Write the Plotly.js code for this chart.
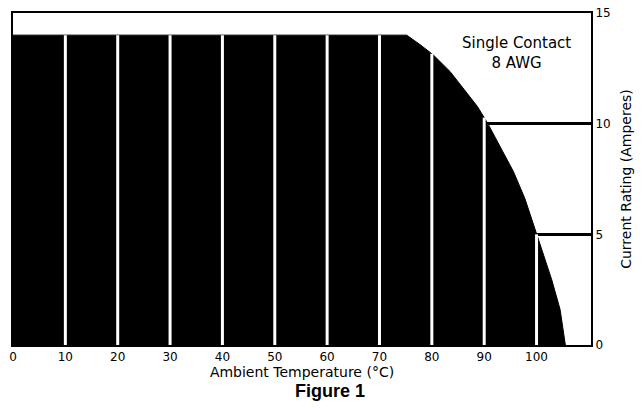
<!DOCTYPE html>
<html>
<head>
<meta charset="utf-8">
<script src="https://cdn.plot.ly/plotly-3.0.1.min.js"></script>
<style>
html,body{margin:0;padding:0;background:#fff;}
#chart{width:643px;height:408px;}
</style>
</head>
<body>
<div id="chart"></div>
<script>
// Derating curve: ambient temperature (°C) vs current rating (A)
var temps = [0, 75.2, 77.7, 80.3, 83.5, 86.6, 88.7, 90.7, 93.0, 95.6, 97.8, 100.0, 101.5, 102.9, 104.5, 105.5];
var amps  = [14, 14, 13.58, 13.1, 12.35, 11.44, 10.78, 10, 8.95, 7.83, 6.6, 5.0, 3.95, 2.95, 1.6, 0];
var xTicks = [0, 10, 20, 30, 40, 50, 60, 70, 80, 90, 100];
var yTicks = [0, 5, 10, 15];
var gridX = [10, 20, 30, 40, 50, 60, 70, 80, 90, 100];
var noteLines = ["Single Contact", "8 AWG"];
var xTitle = "Ambient Temperature (°C)";
var yTitle = "Current Rating (Amperes)";
var figLabel = "Figure 1";

function curveAt(x) {
  for (var i = 0; i < temps.length - 1; i++) {
    if (x >= temps[i] && x <= temps[i + 1]) {
      var t = (x - temps[i]) / (temps[i + 1] - temps[i]);
      return amps[i] + t * (amps[i + 1] - amps[i]);
    }
  }
  return 0;
}

var FONT = "DejaVu Sans, Verdana, sans-serif";

var trace = {
  x: temps, y: amps, type: 'scatter', mode: 'lines',
  fill: 'tozeroy', fillcolor: '#000', line: {color: '#000', width: 1},
  hoverinfo: 'skip', showlegend: false
};

var shapes = gridX.map(function (gx) {
  return {type: 'line', xref: 'x', yref: 'y', x0: gx, x1: gx, y0: 0, y1: curveAt(gx),
          line: {color: '#fff', width: 3}, layer: 'above'};
});

var layout = {
  width: 643, height: 408,
  margin: {l: 13, r: 52, t: 13, b: 63},
  paper_bgcolor: '#fff', plot_bgcolor: '#fff',
  font: {family: FONT, color: '#000', size: 12},
  showlegend: false,
  xaxis: {
    range: [0, 110.4], tickvals: xTicks, ticktext: xTicks.map(String),
    showgrid: false, zeroline: false, ticks: '',
    showline: true, mirror: true, linecolor: '#000', linewidth: 2,
    tickfont: {family: FONT, size: 12, color: '#000'},
    title: {text: xTitle, font: {family: FONT, size: 14, color: '#000'}, standoff: 3}
  },
  yaxis: {
    side: 'right', range: [0, 15], tickvals: yTicks, ticktext: yTicks.map(String),
    showgrid: true, gridcolor: '#000', gridwidth: 3, zeroline: false, ticks: '',
    showline: true, mirror: true, linecolor: '#000', linewidth: 2,
    tickfont: {family: FONT, size: 12, color: '#000'},
    title: {text: yTitle, font: {family: FONT, size: 14, color: '#000'}, standoff: 12}
  },
  shapes: shapes,
  annotations: [
    {xref: 'paper', yref: 'paper', x: 0.871, y: 0.88, xanchor: 'center', yanchor: 'middle',
     text: noteLines.join('<br>'), showarrow: false, align: 'center',
     font: {family: FONT, size: 15, color: '#000'}},
    {xref: 'paper', yref: 'paper', x: 0.548, y: -0.139, xanchor: 'center', yanchor: 'middle',
     text: '<b>' + figLabel + '</b>', showarrow: false,
     font: {family: 'Liberation Sans, Arial, sans-serif', size: 18, color: '#000'}}
  ]
};

Plotly.newPlot('chart', [trace], layout, {staticPlot: true, displayModeBar: false});
</script>
</body>
</html>
